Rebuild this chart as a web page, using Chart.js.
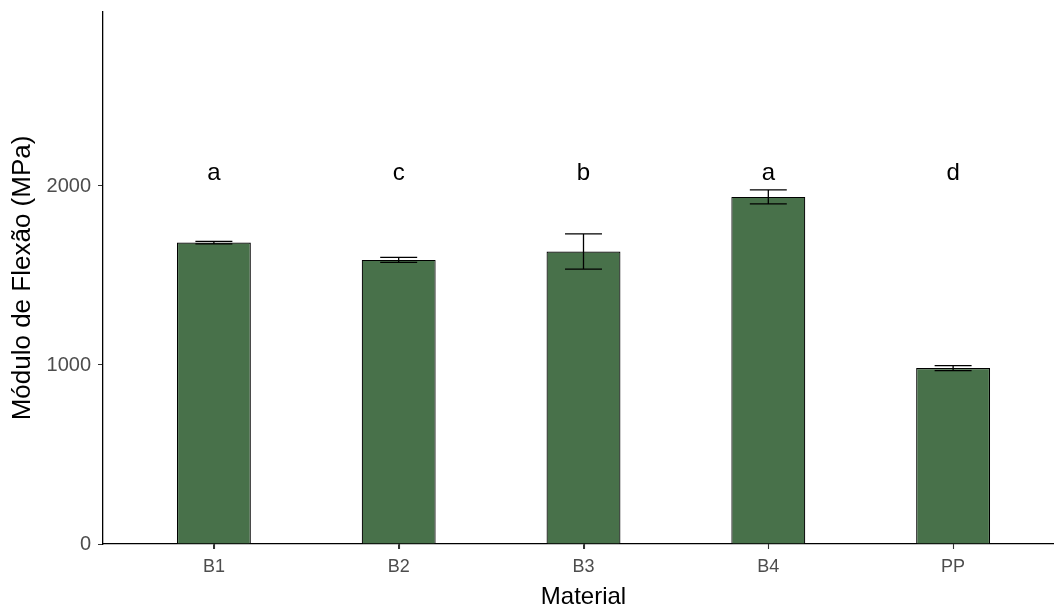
<!DOCTYPE html>
<html lang="pt">
<head>
    <meta charset="UTF-8">
    <title>Módulo de Flexão</title>
    <script src="https://cdn.jsdelivr.net/npm/chart.js"></script>
    <style>
        html, body { margin: 0; padding: 0; background: #ffffff; overflow: hidden; }
        #wrap { width: 1054px; height: 612px; overflow: hidden; }
    </style>
</head>
<body>
    <div id="wrap">
        <canvas id="graficoModulo" width="1064" height="612"></canvas>
    </div>

    <script>
        // Dados
        const materiais = ['B1', 'B2', 'B3', 'B4', 'PP'];
        const medias = [1684, 1587, 1634, 1939, 983];
        const desvios = [7, 14, 98, 39, 14];
        const letras = ['a', 'c', 'b', 'a', 'd'];
        const alturaLetras = 2073;
        const ticksY = [0, 1000, 2000];

        const corBarra = '#48714a';
        const fonte = '"Liberation Sans", Arial, sans-serif';

        // Barras de erro, marcas do eixo x e letras de significância
        const errosPlugin = {
            id: 'erros',
            afterDatasetsDraw(chart) {
                const ctx = chart.ctx;
                const x = chart.scales.x;
                const y = chart.scales.y;
                const meta = chart.getDatasetMeta(0);
                ctx.save();
                ctx.strokeStyle = '#000000';
                ctx.lineWidth = 1.3;
                meta.data.forEach((bar, i) => {
                    const cx = bar.x;
                    const meia = bar.width / 4;
                    const yTop = y.getPixelForValue(medias[i] + desvios[i]);
                    const yBot = y.getPixelForValue(medias[i] - desvios[i]);
                    ctx.beginPath();
                    ctx.moveTo(cx, yTop); ctx.lineTo(cx, yBot);
                    ctx.moveTo(cx - meia, yTop); ctx.lineTo(cx + meia, yTop);
                    ctx.moveTo(cx - meia, yBot); ctx.lineTo(cx + meia, yBot);
                    ctx.stroke();
                });
                // marcas curtas sob o eixo x
                ctx.strokeStyle = '#333333';
                ctx.lineWidth = 1.1;
                ctx.beginPath();
                materiais.forEach((m, i) => {
                    const px = Math.round(x.getPixelForValue(i + 1)) + 0.5;
                    ctx.moveTo(px, x.top);
                    ctx.lineTo(px, x.top + 5);
                });
                ctx.stroke();

                ctx.fillStyle = '#000000';
                ctx.font = '24px ' + fonte;
                ctx.textAlign = 'center';
                ctx.textBaseline = 'middle';
                letras.forEach((l, i) => {
                    ctx.fillText(l, x.getPixelForValue(i + 1), y.getPixelForValue(alturaLetras));
                });
                ctx.restore();
            }
        };

        const ctx = document.getElementById('graficoModulo').getContext('2d');
        new Chart(ctx, {
            type: 'bar',
            data: {
                datasets: [{
                    label: 'Módulo de Flexão',
                    data: medias.map((v, i) => ({ x: i + 1, y: v })),
                    backgroundColor: corBarra,
                    borderColor: '#000000',
                    borderWidth: 1.2,
                    categoryPercentage: 1.0,
                    barPercentage: 0.4
                }]
            },
            options: {
                responsive: false,
                animation: false,
                layout: { padding: { top: 12, right: 0, left: 0, bottom: 0 } },
                plugins: {
                    legend: { display: false },
                    tooltip: { enabled: false }
                },
                scales: {
                    x: {
                        type: 'linear',
                        min: 0.4,
                        max: 5.6,
                        offset: false,
                        afterBuildTicks(scale) { scale.ticks = materiais.map((m, i) => ({ value: i + 1 })); },
                        grid: { offset: false, drawOnChartArea: false, drawTicks: true, tickLength: 5, tickColor: '#333333' },
                        border: { color: '#000000', width: 1.3 },
                        ticks: {
                            color: '#4d4d4d',
                            font: { size: 18, family: fonte },
                            padding: 7,
                            maxRotation: 0,
                            callback: (v) => materiais[Math.round(v) - 1]
                        },
                        title: {
                            display: true,
                            text: 'Material',
                            color: '#000000',
                            font: { size: 24, family: fonte },
                            padding: { top: 0, bottom: 0 }
                        },
                        afterFit(scale) { scale.height = 68; scale.paddingLeft = 0; scale.paddingRight = 0; }
                    },
                    y: {
                        min: 0,
                        max: 2972,
                        afterBuildTicks(scale) { scale.ticks = ticksY.map(v => ({ value: v })); },
                        grid: { drawOnChartArea: false, drawTicks: true, tickLength: 5, tickColor: '#333333' },
                        border: { color: '#000000', width: 1.3 },
                        ticks: {
                            color: '#4d4d4d',
                            font: { size: 20, family: fonte },
                            padding: 7,
                            callback: (v) => String(v)
                        },
                        title: {
                            display: true,
                            text: 'Módulo de Flexão (MPa)',
                            color: '#000000',
                            font: { size: 26, family: fonte },
                            padding: { top: 7, bottom: 0 }
                        },
                        afterFit(scale) { scale.width = 103; scale.paddingTop = 0; scale.paddingBottom = 0; }
                    }
                }
            },
            plugins: [errosPlugin]
        });
    </script>
</body>
</html>
